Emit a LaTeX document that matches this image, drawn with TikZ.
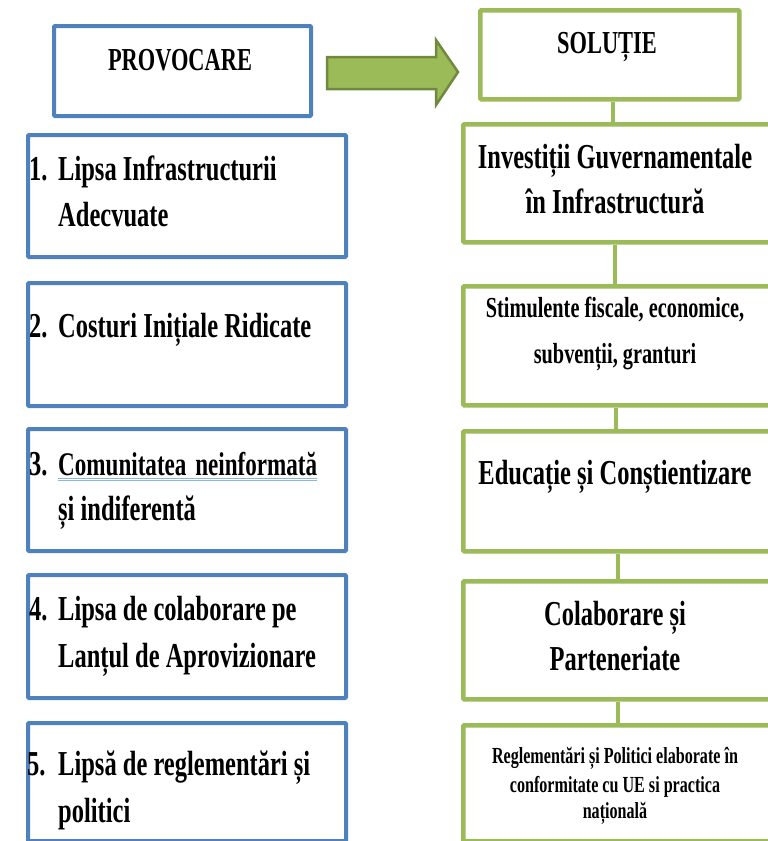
\documentclass[tikz,border=0pt]{standalone}
\usepackage{fontspec}
\setmainfont{Liberation Serif}[FakeStretch=0.7]
\definecolor{blueC}{HTML}{4F81BD}
\definecolor{greenC}{HTML}{9BBB59}
\definecolor{arrowB}{HTML}{71893F}
\definecolor{ulC}{HTML}{8DB3E2}
\tikzset{
  bbox/.style={draw=blueC, line width=4pt, rounded corners=1pt, inner sep=0pt, anchor=north west},
  gbox/.style={draw=greenC, line width=4.5pt, rounded corners=1pt, inner sep=0pt, anchor=north west},
  conn/.style={draw=greenC, line width=4pt},
  ltxt/.style={anchor=base west, inner sep=0pt, font=\fontsize{35}{42}\selectfont\bfseries},
  rtxt/.style={anchor=base, inner sep=0pt, font=\fontsize{35}{42}\selectfont\bfseries},
  rsmall/.style={anchor=base, inner sep=0pt, font=\fontsize{29}{34}\selectfont\bfseries},
  rtiny/.style={anchor=base, inner sep=0pt, font=\fontsize{23}{28}\selectfont\bfseries},
  head/.style={anchor=base, inner sep=0pt, font=\fontsize{32}{38}\selectfont\bfseries},
}
\begin{document}
\begin{tikzpicture}[x=1pt,y=-1pt]
\useasboundingbox (0,0) rectangle (768,841);
\clip (0,0) rectangle (768,841);

% header boxes
\node[bbox, minimum width=257pt, minimum height=90pt] (prov) at (52,24) {};
\node[gbox, minimum width=259pt, minimum height=89pt] (sol) at (478,8) {};
\node[head] (provt) at (180,70) {PROVOCARE};
\node[head] (solt) at (607,53) {SOLUȚIE};

% block arrow
\draw[fill=greenC, draw=arrowB, line width=2.5pt, line join=miter]
  (327,57) -- (436,57) -- (436,40) -- (458,72) -- (436,105) -- (436,89) -- (327,89) -- cycle;

% left boxes
\node[bbox, minimum width=318pt, minimum height=122pt] (l1) at (26,133) {};
\node[bbox, minimum width=318pt, minimum height=123pt] (l2) at (26,281) {};
\node[bbox, minimum width=318pt, minimum height=122pt] (l3) at (26,427) {};
\node[bbox, minimum width=318pt, minimum height=123pt] (l4) at (26,573) {};
\node[bbox, minimum width=318pt, minimum height=118pt] (l5) at (26,721) {};

% right boxes
\node[gbox, minimum width=309pt, minimum height=118pt] (r1) at (461,122) {};
\node[gbox, minimum width=309pt, minimum height=119pt] (r2) at (461,284) {};
\node[gbox, minimum width=309pt, minimum height=120pt] (r3) at (461,429) {};
\node[gbox, minimum width=309pt, minimum height=118pt] (r4) at (461,579) {};
\node[gbox, minimum width=309pt, minimum height=116pt] (r5) at (461,723) {};

% connectors
\draw[conn] ([xshift=3pt]sol.south) -- ([xshift=3pt]sol.south |- r1.north);
\draw[conn] ([xshift=-3pt]r1.south) -- ([xshift=-3pt]r2.north);
\draw[conn] ([xshift=-2pt]r2.south) -- ([xshift=-2pt]r3.north);
\draw[conn] (r3.south) -- (r4.north);
\draw[conn] (r4.south) -- (r5.north);

% left texts
\node[ltxt] (n1) at (29,180) {1.};
\node[ltxt] (t1a) at (58,180) {Lipsa Infrastructurii};
\node[ltxt] (t1b) at (58,226) {Adecvuate};
\node[ltxt] (n2) at (29,337) {2.};
\node[ltxt] (t2a) at (58,337) {Costuri Inițiale Ridicate};
\node[ltxt] (n3) at (29,475) {3.};
\node[ltxt, font=\fontsize{33}{40}\selectfont\bfseries] (t3a) at (58,475) {Comunitatea\hspace{3pt} neinformată};
\node[ltxt] (t3b) at (58,520) {și indiferentă};
\draw[ulC, line width=0.8pt] (t3a.base west) ++(0,3) -- ([yshift=-3pt]t3a.base east);
\draw[ulC, line width=0.8pt] (t3a.base west) ++(0,5) -- ([yshift=-5pt]t3a.base east);
\node[ltxt] (n4) at (29,620) {4.};
\node[ltxt] (t4a) at (58,620) {Lipsa de colaborare pe};
\node[ltxt] (t4b) at (58,667) {Lanțul de Aprovizionare};
\node[ltxt] (n5) at (27,775) {5.};
\node[ltxt] (t5a) at (58,775) {Lipsă de reglementări și};
\node[ltxt] (t5b) at (58,822) {politici};

% right texts
\node[rtxt] (s1a) at (615,168) {Investiții Guvernamentale};
\node[rtxt] (s1b) at (615,213) {în Infrastructură};
\node[rsmall] (s2a) at (615,317) {Stimulente fiscale, economice,};
\node[rsmall] (s2b) at (615,363) {subvenții, granturi};
\node[rtxt] (s3a) at (615,484) {Educație și Conștientizare};
\node[rtxt] (s4a) at (615,625) {Colaborare și};
\node[rtxt] (s4b) at (615,670) {Parteneriate};
\node[rtiny] (s5a) at (615,763) {Reglementări și Politici elaborate în};
\node[rtiny] (s5b) at (615,792) {conformitate cu UE si practica};
\node[rtiny] (s5c) at (615,818) {națională};
\end{tikzpicture}
\end{document}
